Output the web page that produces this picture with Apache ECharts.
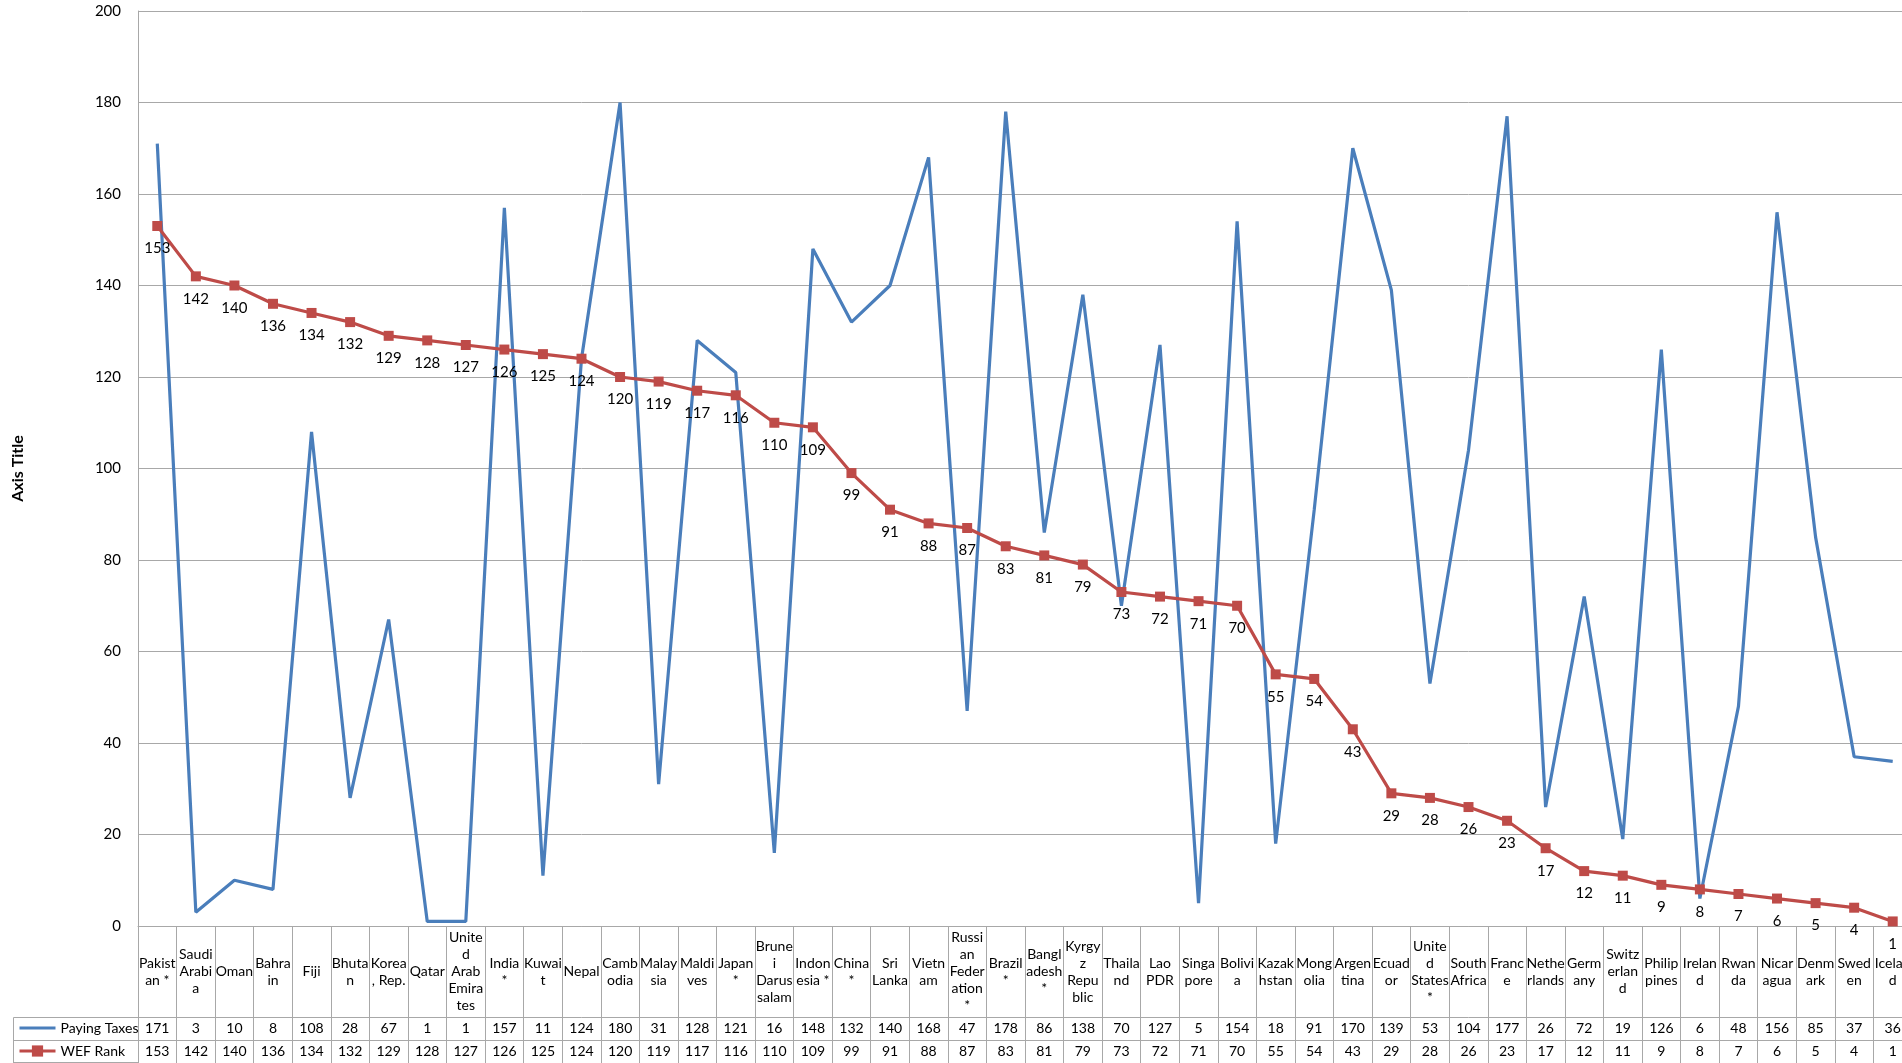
<!DOCTYPE html>
<html>
<head>
<meta charset="utf-8">
<script src="https://cdn.jsdelivr.net/npm/echarts@6/dist/echarts.min.js"></script>
<style>
html,body{margin:0;padding:0;overflow:hidden;background:#fff;}
#chart{width:1920px;height:1063px;}
</style>
</head>
<body>
<div id="chart"></div>
<script>
const categories = ["Pakistan *","Saudi Arabia","Oman","Bahrain","Fiji","Bhutan","Korea, Rep.","Qatar","United Arab Emirates","India *","Kuwait","Nepal","Cambodia","Malaysia","Maldives","Japan *","Brunei Darussalam","Indonesia *","China *","Sri Lanka","Vietnam","Russian Federation *","Brazil *","Bangladesh *","Kyrgyz Republic","Thailand","Lao PDR","Singapore","Bolivia","Kazakhstan","Mongolia","Argentina","Ecuador","United States *","South Africa","France","Netherlands","Germany","Switzerland","Philippines","Ireland","Rwanda","Nicaragua","Denmark","Sweden","Iceland"];
const categoryLabels = ["Pakist\nan *","Saudi\nArabi\na","Oman","Bahra\nin","Fiji","Bhuta\nn","Korea\n, Rep.","Qatar","Unite\nd\nArab\nEmira\ntes","India\n*","Kuwai\nt","Nepal","Camb\nodia","Malay\nsia","Maldi\nves","Japan\n*","Brune\ni\nDarus\nsalam","Indon\nesia *","China\n*","Sri\nLanka","Vietn\nam","Russi\nan\nFeder\nation\n*","Brazil\n*","Bangl\nadesh\n*","Kyrgy\nz\nRepu\nblic","Thaila\nnd","Lao\nPDR","Singa\npore","Bolivi\na","Kazak\nhstan","Mong\nolia","Argen\ntina","Ecuad\nor","Unite\nd\nStates\n*","South\nAfrica","Franc\ne","Nethe\nrlands","Germ\nany","Switz\nerlan\nd","Philip\npines","Irelan\nd","Rwan\nda","Nicar\nagua","Denm\nark","Swed\nen","Icelan\nd"];
const payingTaxes = [171,3,10,8,108,28,67,1,1,157,11,124,180,31,128,121,16,148,132,140,168,47,178,86,138,70,127,5,154,18,91,170,139,53,104,177,26,72,19,126,6,48,156,85,37,36];
const wefRank = [153,142,140,136,134,132,129,128,127,126,125,124,120,119,117,116,110,109,99,91,88,87,83,81,79,73,72,71,70,55,54,43,29,28,26,23,17,12,11,9,8,7,6,5,4,1];
const seriesNames = ["Paying Taxes","WEF Rank"];

const FONT = "Lato, 'Open Sans', sans-serif";
const GRID_LINE = '#A8A8A8';
const TABLE_LINE = '#A8A8A8';
const BLUE = '#4A7EBB';
const RED = '#BE4B48';
const chart = echarts.init(document.getElementById('chart'), null, {renderer:'canvas'});

function tableAxis(offset, tickLen, margin, formatter, showLabel) {
  return {
    type: 'category',
    data: categories,
    position: 'bottom',
    offset: offset,
    boundaryGap: true,
    axisLine: {show: true, lineStyle: {color: TABLE_LINE, width: 1}},
    axisTick: {show: tickLen > 0, interval: 0, length: tickLen, lineStyle: {color: TABLE_LINE, width: 1}},
    axisLabel: {
      show: showLabel, interval: 0, margin: margin, verticalAlign: 'middle',
      fontFamily: FONT, fontSize: 14, lineHeight: 17, color: '#000',
      formatter: formatter
    },
    splitLine: {show: false}
  };
}

function legendAt(item, top, color) {
  return {
    data: [item],
    orient: 'horizontal',
    left: 18, top: top,
    padding: 0,
    itemWidth: 36, itemHeight: 14, itemGap: 0,
    lineStyle: {width: 3, color: color},
    textStyle: {fontFamily: FONT, fontSize: 14, color: '#000'}
  };
}

chart.setOption({
  animation: false,
  textStyle: {fontFamily: FONT},
  grid: {left: 138, top: 11, width: 1774, height: 915, containLabel: false, outerBoundsMode: 'none'},
  legend: [
    legendAt({name: seriesNames[0], itemStyle: {opacity: 0}}, 1021, BLUE),
    legendAt({name: seriesNames[1]}, 1044, RED)
  ],
  xAxis: [
    tableAxis(0, 91, 45.5, (v, i) => categoryLabels[i], true),
    tableAxis(91, 23, 11.5, (v, i) => String(payingTaxes[i]), true),
    tableAxis(114, 23, 11.5, (v, i) => String(wefRank[i]), true),
    tableAxis(137, 0, 0, () => '', false)
  ],
  yAxis: {
    type: 'value', min: 0, max: 200, interval: 20,
    name: 'Axis Title', nameLocation: 'middle', nameGap: 112, nameRotate: 90,
    nameTextStyle: {fontFamily: FONT, fontSize: 16, fontWeight: 'bold', color: '#000'},
    axisLine: {show: true, lineStyle: {color: GRID_LINE, width: 1}},
    axisTick: {show: false},
    axisLabel: {fontFamily: FONT, fontSize: 15, color: '#000', margin: 17},
    splitLine: {show: true, lineStyle: {color: GRID_LINE, width: 1}}
  },
  graphic: [
    {type: 'line', shape: {x1: 13.5, y1: 1017.5, x2: 138, y2: 1017.5}, style: {stroke: TABLE_LINE, lineWidth: 1}},
    {type: 'line', shape: {x1: 13.5, y1: 1040.5, x2: 138, y2: 1040.5}, style: {stroke: TABLE_LINE, lineWidth: 1}},
    {type: 'line', shape: {x1: 13.5, y1: 1062.5, x2: 138, y2: 1062.5}, style: {stroke: TABLE_LINE, lineWidth: 1}},
    {type: 'line', shape: {x1: 13.5, y1: 1017.5, x2: 13.5, y2: 1063}, style: {stroke: TABLE_LINE, lineWidth: 1}}
  ],
  series: [
    {
      name: seriesNames[0], type: 'line', xAxisIndex: 0, data: payingTaxes,
      symbol: 'none', color: BLUE,
      lineStyle: {color: BLUE, width: 3.2}
    },
    {
      name: seriesNames[1], type: 'line', xAxisIndex: 0, data: wefRank,
      symbol: 'rect', symbolSize: 10, color: RED,
      itemStyle: {color: RED},
      lineStyle: {color: RED, width: 3.2},
      label: {show: true, position: 'bottom', distance: 10, fontFamily: FONT, fontSize: 15, color: '#000'}
    }
  ]
});
</script>
</body>
</html>
